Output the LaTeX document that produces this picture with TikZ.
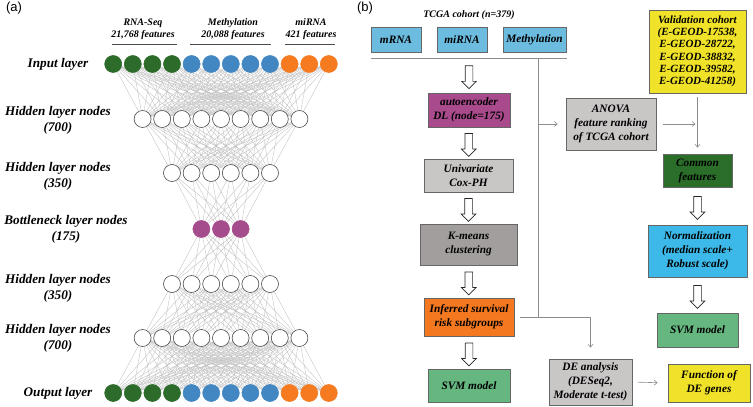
\documentclass[tikz,border=0pt]{standalone}
\usepackage{fontspec}
\setmainfont{Liberation Serif}
\setsansfont{Liberation Sans}
\usetikzlibrary{shapes.arrows,arrows.meta}
\pgfdeclarelayer{background}
\pgfsetlayers{background,main}

\definecolor{rnagreen}{RGB}{44,107,42}
\definecolor{metblue}{RGB}{66,134,194}
\definecolor{mirorange}{RGB}{245,122,32}
\definecolor{bnpurple}{RGB}{165,76,140}
\definecolor{boxblue}{RGB}{108,188,224}
\definecolor{boxpurple}{RGB}{168,74,140}
\definecolor{boxlgray}{RGB}{201,198,198}
\definecolor{boxdgray}{RGB}{163,158,158}
\definecolor{boxorange}{RGB}{244,120,32}
\definecolor{boxgreen}{RGB}{102,183,127}
\definecolor{boxyellow}{RGB}{240,226,40}
\definecolor{boxdkgreen}{RGB}{42,110,42}
\definecolor{boxcyan}{RGB}{60,185,232}

\tikzset{
  neuron/.style={circle,draw=black!70,fill=white,line width=0.6pt,minimum size=17pt,inner sep=0pt},
  synapse/.style={draw=black!25,line width=0.35pt},
  layerlabel/.style={align=center,font=\fontsize{13.2}{16}\selectfont\bfseries\itshape},
  headlabel/.style={align=center,font=\fontsize{10}{12}\selectfont\bfseries\itshape},
  box/.style={draw=black!60,line width=0.8pt,align=center,inner sep=1pt,
    font=\fontsize{11.3}{14}\selectfont\bfseries\itshape},
  blockarrow/.style={single arrow,draw=black!85,fill=white,line width=0.7pt,rotate=-90,
    minimum height=23pt,inner sep=3.5pt,single arrow head extend=3.5pt},
  thin/.style={draw=black!45,line width=0.6pt},
  thinarrow/.style={thin,-{Straight Barb[length=3pt,width=5pt]}},
  panel/.style={font=\sffamily\fontsize{13}{13}\selectfont}
}

\begin{document}
\begin{tikzpicture}[x=1pt,y=-1pt]
  \useasboundingbox (0,0) rectangle (753,407);

  % (a) autoencoder
  \node[panel] (pa) at (14,8) {(a)};
  \node[headlabel] (head-rna) at (143,29.5) {RNA-Seq\\21,768 features};
  \node[headlabel] (head-met) at (233,29.5) {Methylation\\20,088 features};
  \node[headlabel] (head-mir) at (311,29.5) {miRNA\\421 features};
  \draw[draw=black!70,line width=0.6pt] (112,44) -- (177,44) (190,44) -- (271,44) (285,44) -- (335,44);

  \foreach \lay/\yy in {in/64,out/393}{
    \foreach \i/\c in {1/rnagreen,2/rnagreen,3/rnagreen,4/rnagreen,5/metblue,6/metblue,
        7/metblue,8/metblue,9/metblue,10/mirorange,11/mirorange,12/mirorange}
      \node[neuron,fill=\c,draw=\c] (\lay-\i) at ({221+(\i-6.5)*19.6},\yy) {};
  }
  \foreach \lay/\num/\yy in {ha/9/119,hb/6/173,hc/6/284,hd/9/338}{
    \foreach \i in {1,...,\num}
      \node[neuron] (\lay-\i) at ({221+(\i-(\num+1)/2)*19.6},\yy) {};
  }
  \foreach \i in {1,2,3}
    \node[neuron,fill=bnpurple,draw=bnpurple] (bn-\i) at ({221+(\i-2)*19.6},229) {};

  \begin{pgfonlayer}{background}
  \foreach \a/\na/\b/\nb in {in/12/ha/9,ha/9/hb/6,hb/6/bn/3,bn/3/hc/6,hc/6/hd/9,hd/9/out/12}{
    \foreach \i in {1,...,\na}
      \foreach \j in {1,...,\nb}
        \draw[synapse] (\a-\i.center) -- (\b-\j.center);
  }
  \end{pgfonlayer}

  \node[layerlabel] (lbl-in) at (58,64) {Input layer};
  \node[layerlabel] (lbl-ha) at (58,120) {Hidden layer nodes\\(700)};
  \node[layerlabel] (lbl-hb) at (58,176) {Hidden layer nodes\\(350)};
  \node[layerlabel] (lbl-bn) at (66,229) {Bottleneck layer nodes\\(175)};
  \node[layerlabel] (lbl-hc) at (58,288) {Hidden layer nodes\\(350)};
  \node[layerlabel] (lbl-hd) at (58,338) {Hidden layer nodes\\(700)};
  \node[layerlabel] (lbl-out) at (58,393) {Output layer};

  % (b) workflow
  \node[panel] (pb) at (365,8) {(b)};
  \node[headlabel] (tcga) at (469,15) {TCGA cohort (n=379)};
  \node[box,fill=boxblue,minimum width=50pt,minimum height=25pt] (mrna) at (396,39.5) {mRNA};
  \node[box,fill=boxblue,minimum width=50pt,minimum height=25pt] (mirna) at (462,39.5) {miRNA};
  \node[box,fill=boxblue,minimum width=63pt,minimum height=25pt] (meth) at (534.5,39.5) {Methylation};
  \coordinate (bus-l) at (371,58);
  \coordinate (bus-r) at (567,58);
  \coordinate (bus-m) at (469,58);
  \coordinate (trunk) at (538,58);

  \node[box,fill=boxpurple,minimum width=82pt,minimum height=34pt] (autoenc) at (469,110) {autoencoder\\DL (node=175)};
  \node[box,fill=boxlgray,minimum width=89pt,minimum height=33pt] (cox) at (468.5,175.5) {Univariate\\Cox-PH};
  \node[box,fill=boxdgray,minimum width=97pt,minimum height=41pt] (kmeans) at (468.5,244.5) {K-means\\clustering};
  \node[box,fill=boxorange,minimum width=90pt,minimum height=38pt] (infer) at (469,317) {Inferred survival\\risk subgroups};
  \node[box,fill=boxgreen,minimum width=82pt,minimum height=33pt] (svm-l) at (469,385.5) {SVM model};

  \node[box,fill=boxlgray,minimum width=90pt,minimum height=52pt] (anova) at (611,124) {ANOVA\\feature ranking\\of TCGA cohort};
  \node[box,fill=boxyellow,minimum width=97pt,minimum height=83pt,font=\fontsize{11}{12.3}\selectfont\bfseries\itshape] (valid) at (697.5,51.5)
    {Validation cohort\\(E-GEOD-17538,\\E-GEOD-28722,\\E-GEOD-38832,\\E-GEOD-39582,\\E-GEOD-41258)};
  \node[box,fill=boxdkgreen,minimum width=69pt,minimum height=33pt] (common) at (697.5,170.5) {Common\\features};
  \node[box,fill=boxcyan,minimum width=99pt,minimum height=52pt] (norm) at (697.5,251) {Normalization\\(median scale+\\Robust scale)};
  \node[box,fill=boxgreen,minimum width=81pt,minimum height=34pt] (svm-r) at (697.5,330) {SVM model};
  \node[box,fill=boxlgray,minimum width=83pt,minimum height=46pt] (de) at (590.5,382) {DE analysis\\(DESeq2,\\Moderate t-test)};
  \node[box,fill=boxyellow,minimum width=82pt,minimum height=38pt] (func) at (709,383) {Function of\\DE genes};

  % block arrows
  \path (bus-m) -- node[blockarrow] (ba1) {} (autoenc.north);
  \path (autoenc.south) -- node[blockarrow] (ba2) {} (cox.north);
  \path (cox.south) -- node[blockarrow] (ba3) {} (kmeans.north);
  \path (kmeans.south) -- node[blockarrow] (ba4) {} (infer.north);
  \path (infer.south) -- node[blockarrow] (ba5) {} (svm-l.north);
  \path (common.south) -- node[blockarrow] (ba6) {} (norm.north);
  \path (norm.south) -- node[blockarrow] (ba7) {} (svm-r.north);

  % thin lines
  \draw[thin] (bus-l) -- (bus-r);
  \draw[thin] (trunk) -- (trunk |- infer.east);
  \draw[thinarrow,shorten <=6pt,shorten >=11pt] (infer.east) -| (de.north);
  \draw[thinarrow,shorten >=8pt] (trunk |- anova.west) -- (anova.west);
  \draw[thinarrow,shorten <=7pt,shorten >=2pt] (anova.east) -- (anova.east -| valid.south);
  \draw[thinarrow,shorten <=4pt,shorten >=6pt] (valid.south) -- (common.north);
  \draw[thinarrow,shorten <=5pt,shorten >=10pt] (de.east) -- (func.west);
\end{tikzpicture}
\end{document}
